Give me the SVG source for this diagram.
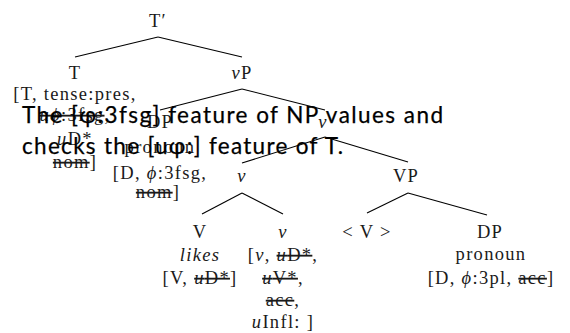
<svg xmlns="http://www.w3.org/2000/svg" width="570" height="333" viewBox="0 0 570 333">
<style>
  .t { font-family: "Liberation Serif", "DejaVu Serif", serif; font-size: 18.5px; letter-spacing: 1.3px; fill: #1a1a1a; text-anchor: middle; }
  .i { font-style: italic; }
  .s { text-decoration: line-through; }
  .e { stroke: #000; stroke-width: 1.1; fill: none; }
  .cap { font-family: "Lato", "Open Sans", sans-serif; font-size: 22.5px; fill: #000; stroke: #000; stroke-width: 0.25; }
</style>
<rect width="570" height="333" fill="#fff"/>
<g id="connectors">
  <line class="e" x1="158" y1="37" x2="75" y2="57"/>
  <line class="e" x1="158" y1="37" x2="242" y2="57"/>
  <line class="e" x1="242" y1="89" x2="160" y2="110"/>
  <line class="e" x1="242" y1="89" x2="325" y2="110"/>
  <line class="e" x1="325" y1="137" x2="242" y2="163"/>
  <line class="e" x1="325" y1="137" x2="408" y2="162"/>
  <line class="e" x1="242" y1="193" x2="202" y2="214"/>
  <line class="e" x1="242" y1="193" x2="283" y2="214"/>
  <line class="e" x1="408" y1="193" x2="367" y2="213"/>
  <line class="e" x1="408" y1="193" x2="487" y2="215"/>
</g>
<g id="Tbar"><text class="t" x="158" y="27">T′</text></g>
<g id="T">
  <text class="t" x="75" y="79">T</text>
  <text class="t" x="75" y="100">[T, tense:pres,</text>
  <text class="t" x="75" y="121"><tspan class="s"><tspan class="i">uϕ</tspan>:3fsg</tspan>,</text>
  <text class="t" x="75" y="145"><tspan class="i">u</tspan>D*</text>
  <text class="t" x="75" y="168"><tspan class="s">nom</tspan>]</text>
</g>
<g id="vP"><text class="t" x="242" y="79"><tspan class="i">v</tspan>P</text></g>
<g id="DP_subj">
  <text class="t" x="160" y="128">DP</text>
  <text class="t" x="160" y="153">pronoun</text>
  <text class="t" x="160" y="179">[D, <tspan class="i">ϕ</tspan>:3fsg,</text>
  <text class="t" x="158" y="198"><tspan class="s">nom</tspan>]</text>
</g>
<g id="vbar"><text class="t i" x="323" y="128">v</text></g>
<g id="v"><text class="t i" x="242" y="182">v</text></g>
<g id="VP"><text class="t" x="406" y="182">VP</text></g>
<g id="V">
  <text class="t" x="200" y="238">V</text>
  <text class="t i" x="200" y="261">likes</text>
  <text class="t" x="200" y="284">[V, <tspan class="s"><tspan class="i">u</tspan>D*</tspan>]</text>
</g>
<g id="v_head">
  <text class="t i" x="283" y="238">v</text>
  <text class="t" x="283" y="261">[<tspan class="i">v</tspan>, <tspan class="s"><tspan class="i">u</tspan>D*</tspan>,</text>
  <text class="t" x="283" y="284"><tspan class="s"><tspan class="i">u</tspan>V*</tspan>,</text>
  <text class="t" x="283" y="306"><tspan class="s">acc</tspan>,</text>
  <text class="t" x="283" y="328"><tspan class="i">u</tspan>Infl: ]</text>
</g>
<g id="V_trace"><text class="t" x="367" y="238">&lt; V &gt;</text></g>
<g id="DP_obj">
  <text class="t" x="490" y="238">DP</text>
  <text class="t" x="491" y="260">pronoun</text>
  <text class="t" x="491" y="284">[D, <tspan class="i">ϕ</tspan>:3pl, <tspan class="s">acc</tspan>]</text>
</g>
<g id="caption">
  <text class="cap" x="22" y="123" textLength="421" lengthAdjust="spacing">The [φ:3fsg] feature of NP values and</text>
  <text class="cap" x="22" y="154" textLength="321" lengthAdjust="spacing">checks the [uφ:] feature of T.</text>
</g>
</svg>
